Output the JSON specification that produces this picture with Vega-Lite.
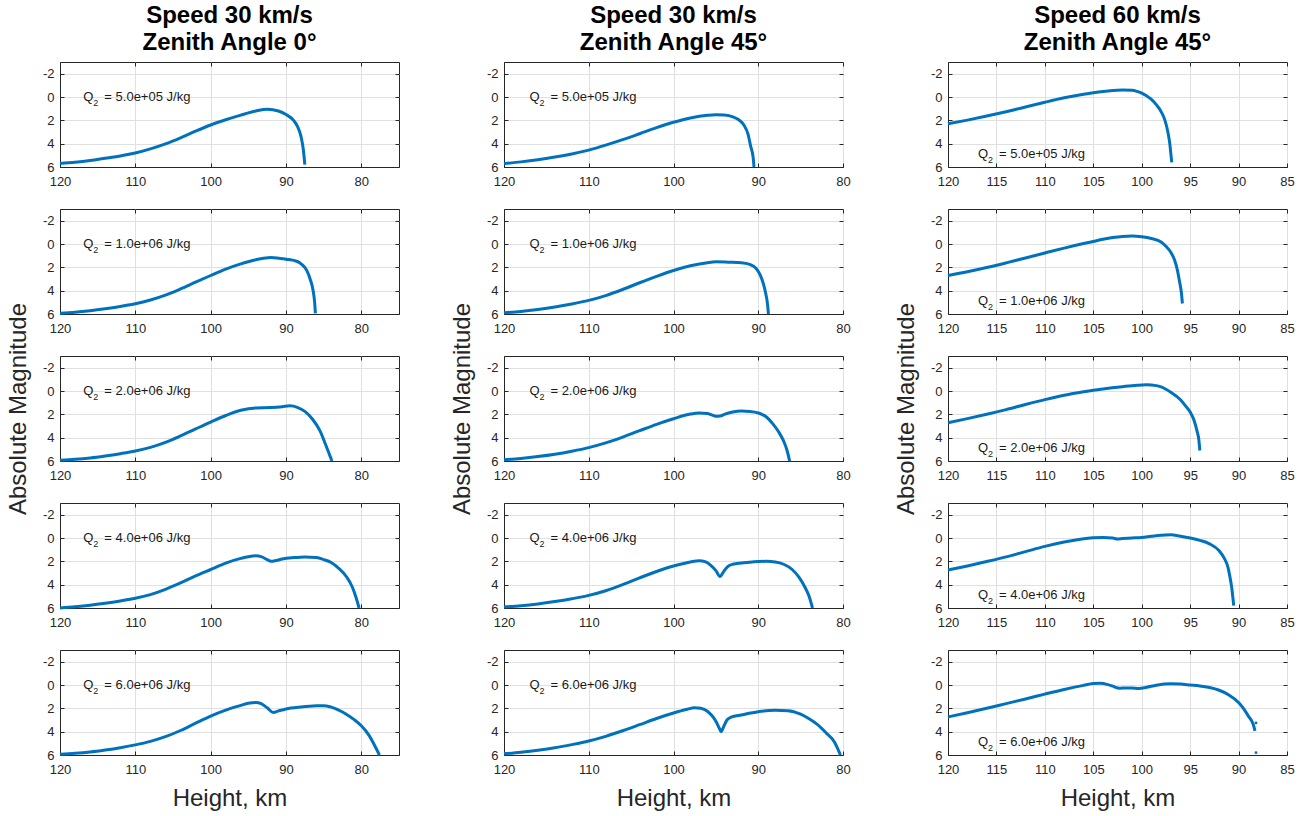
{
"$schema": "https://vega.github.io/schema/vega-lite/v6.json",
"padding": {"left": 5, "top": 3, "right": 5, "bottom": 5},
"background": "white",
"bounds": "flush",
"columns": 3,
"spacing": {"row": 42, "column": 105},
"datasets": {
"curves": [
{"c":"a1","h":120,"m":5.7},{"c":"a1","h":118,"m":5.6},{"c":"a1","h":116,"m":5.45},{"c":"a1","h":114,"m":5.25},{"c":"a1","h":112,"m":5.05},{"c":"a1","h":110,"m":4.8},{"c":"a1","h":108,"m":4.45},{"c":"a1","h":106,"m":4.02},{"c":"a1","h":104,"m":3.5},{"c":"a1","h":102,"m":2.93},{"c":"a1","h":100,"m":2.4},{"c":"a1","h":98,"m":1.95},{"c":"a1","h":96,"m":1.55},{"c":"a1","h":94,"m":1.2},{"c":"a1","h":92.5,"m":1.05},{"c":"a1","h":91,"m":1.2},{"c":"a1","h":90,"m":1.5},{"c":"a1","h":89,"m":2.0},{"c":"a1","h":88.5,"m":2.5},{"c":"a1","h":88,"m":3.4},{"c":"a1","h":87.7,"m":4.5},{"c":"a1","h":87.5,"m":5.8},
{"c":"a2","h":120,"m":5.93},{"c":"a2","h":118,"m":5.85},{"c":"a2","h":116,"m":5.72},{"c":"a2","h":114,"m":5.55},{"c":"a2","h":112,"m":5.35},{"c":"a2","h":110,"m":5.12},{"c":"a2","h":108,"m":4.8},{"c":"a2","h":106,"m":4.38},{"c":"a2","h":104,"m":3.85},{"c":"a2","h":102,"m":3.27},{"c":"a2","h":100,"m":2.7},{"c":"a2","h":98,"m":2.15},{"c":"a2","h":96,"m":1.7},{"c":"a2","h":94,"m":1.35},{"c":"a2","h":92,"m":1.15},{"c":"a2","h":90,"m":1.3},{"c":"a2","h":88.5,"m":1.5},{"c":"a2","h":88,"m":1.7},{"c":"a2","h":87.3,"m":2.2},{"c":"a2","h":86.8,"m":3.0},{"c":"a2","h":86.4,"m":4.0},{"c":"a2","h":86.2,"m":5.0},{"c":"a2","h":86.1,"m":5.95},
{"c":"a3","h":120,"m":5.94},{"c":"a3","h":118,"m":5.86},{"c":"a3","h":116,"m":5.74},{"c":"a3","h":114,"m":5.57},{"c":"a3","h":112,"m":5.37},{"c":"a3","h":110,"m":5.14},{"c":"a3","h":108,"m":4.83},{"c":"a3","h":106,"m":4.4},{"c":"a3","h":104,"m":3.85},{"c":"a3","h":102,"m":3.25},{"c":"a3","h":100,"m":2.66},{"c":"a3","h":98,"m":2.1},{"c":"a3","h":96,"m":1.65},{"c":"a3","h":94,"m":1.45},{"c":"a3","h":92,"m":1.42},{"c":"a3","h":90.5,"m":1.35},{"c":"a3","h":89.5,"m":1.27},{"c":"a3","h":88.5,"m":1.4},{"c":"a3","h":87.5,"m":1.75},{"c":"a3","h":86.5,"m":2.4},{"c":"a3","h":85.5,"m":3.4},{"c":"a3","h":84.8,"m":4.5},{"c":"a3","h":84.2,"m":5.5},{"c":"a3","h":83.9,"m":6.0},
{"c":"a4","h":120,"m":6.0},{"c":"a4","h":118,"m":5.9},{"c":"a4","h":116,"m":5.77},{"c":"a4","h":114,"m":5.6},{"c":"a4","h":112,"m":5.4},{"c":"a4","h":110,"m":5.17},{"c":"a4","h":108,"m":4.85},{"c":"a4","h":106,"m":4.4},{"c":"a4","h":104,"m":3.85},{"c":"a4","h":102,"m":3.25},{"c":"a4","h":100,"m":2.7},{"c":"a4","h":98,"m":2.15},{"c":"a4","h":96,"m":1.75},{"c":"a4","h":95,"m":1.6},{"c":"a4","h":94,"m":1.53},{"c":"a4","h":93.3,"m":1.6},{"c":"a4","h":92.5,"m":1.85},{"c":"a4","h":92,"m":2.0},{"c":"a4","h":91.3,"m":1.93},{"c":"a4","h":90.5,"m":1.8},{"c":"a4","h":89,"m":1.68},{"c":"a4","h":87.5,"m":1.62},{"c":"a4","h":86,"m":1.68},{"c":"a4","h":85,"m":1.85},{"c":"a4","h":84,"m":2.1},{"c":"a4","h":83,"m":2.6},{"c":"a4","h":82,"m":3.3},{"c":"a4","h":81.2,"m":4.2},{"c":"a4","h":80.7,"m":5.1},{"c":"a4","h":80.3,"m":6.0},
{"c":"a5","h":120,"m":5.94},{"c":"a5","h":118,"m":5.86},{"c":"a5","h":116,"m":5.74},{"c":"a5","h":114,"m":5.57},{"c":"a5","h":112,"m":5.37},{"c":"a5","h":110,"m":5.13},{"c":"a5","h":108,"m":4.83},{"c":"a5","h":106,"m":4.43},{"c":"a5","h":104,"m":3.9},{"c":"a5","h":102,"m":3.27},{"c":"a5","h":100,"m":2.66},{"c":"a5","h":98,"m":2.15},{"c":"a5","h":96,"m":1.75},{"c":"a5","h":95,"m":1.56},{"c":"a5","h":94,"m":1.5},{"c":"a5","h":93.3,"m":1.6},{"c":"a5","h":92.5,"m":1.95},{"c":"a5","h":91.7,"m":2.35},{"c":"a5","h":91,"m":2.22},{"c":"a5","h":90,"m":2.05},{"c":"a5","h":88,"m":1.88},{"c":"a5","h":86,"m":1.78},{"c":"a5","h":85,"m":1.77},{"c":"a5","h":84,"m":1.9},{"c":"a5","h":83,"m":2.15},{"c":"a5","h":82,"m":2.5},{"c":"a5","h":81,"m":2.95},{"c":"a5","h":80,"m":3.5},{"c":"a5","h":79,"m":4.3},{"c":"a5","h":78.3,"m":5.1},{"c":"a5","h":77.6,"m":6.0},
{"c":"b1","h":120,"m":5.7},{"c":"b1","h":118,"m":5.56},{"c":"b1","h":116,"m":5.38},{"c":"b1","h":114,"m":5.15},{"c":"b1","h":112,"m":4.88},{"c":"b1","h":110,"m":4.55},{"c":"b1","h":108,"m":4.13},{"c":"b1","h":106,"m":3.66},{"c":"b1","h":104,"m":3.15},{"c":"b1","h":102,"m":2.63},{"c":"b1","h":100,"m":2.17},{"c":"b1","h":98,"m":1.8},{"c":"b1","h":96,"m":1.57},{"c":"b1","h":95,"m":1.52},{"c":"b1","h":94,"m":1.55},{"c":"b1","h":93,"m":1.7},{"c":"b1","h":92.3,"m":1.95},{"c":"b1","h":91.7,"m":2.4},{"c":"b1","h":91.2,"m":3.2},{"c":"b1","h":90.9,"m":4.2},{"c":"b1","h":90.6,"m":5.2},{"c":"b1","h":90.5,"m":6.0},
{"c":"b2","h":120,"m":5.9},{"c":"b2","h":118,"m":5.78},{"c":"b2","h":116,"m":5.61},{"c":"b2","h":114,"m":5.4},{"c":"b2","h":112,"m":5.14},{"c":"b2","h":110,"m":4.83},{"c":"b2","h":108,"m":4.42},{"c":"b2","h":106,"m":3.9},{"c":"b2","h":104,"m":3.32},{"c":"b2","h":102,"m":2.77},{"c":"b2","h":100,"m":2.27},{"c":"b2","h":98,"m":1.87},{"c":"b2","h":96,"m":1.6},{"c":"b2","h":95,"m":1.53},{"c":"b2","h":93.5,"m":1.56},{"c":"b2","h":92,"m":1.6},{"c":"b2","h":91,"m":1.75},{"c":"b2","h":90.3,"m":2.05},{"c":"b2","h":89.8,"m":2.6},{"c":"b2","h":89.4,"m":3.4},{"c":"b2","h":89.1,"m":4.3},{"c":"b2","h":88.9,"m":5.2},{"c":"b2","h":88.8,"m":6.0},
{"c":"b3","h":120,"m":5.9},{"c":"b3","h":118,"m":5.78},{"c":"b3","h":116,"m":5.62},{"c":"b3","h":114,"m":5.42},{"c":"b3","h":112,"m":5.16},{"c":"b3","h":110,"m":4.85},{"c":"b3","h":108,"m":4.45},{"c":"b3","h":106,"m":3.95},{"c":"b3","h":104,"m":3.4},{"c":"b3","h":102,"m":2.86},{"c":"b3","h":100,"m":2.38},{"c":"b3","h":98,"m":1.98},{"c":"b3","h":97,"m":1.89},{"c":"b3","h":96,"m":1.93},{"c":"b3","h":95.5,"m":2.05},{"c":"b3","h":95,"m":2.17},{"c":"b3","h":94.5,"m":2.15},{"c":"b3","h":94,"m":2.0},{"c":"b3","h":93,"m":1.8},{"c":"b3","h":92,"m":1.72},{"c":"b3","h":91,"m":1.75},{"c":"b3","h":90,"m":1.88},{"c":"b3","h":89,"m":2.25},{"c":"b3","h":88.3,"m":2.8},{"c":"b3","h":87.6,"m":3.5},{"c":"b3","h":87,"m":4.3},{"c":"b3","h":86.6,"m":5.1},{"c":"b3","h":86.3,"m":6.0},
{"c":"b4","h":120,"m":5.9},{"c":"b4","h":118,"m":5.8},{"c":"b4","h":116,"m":5.65},{"c":"b4","h":114,"m":5.45},{"c":"b4","h":112,"m":5.21},{"c":"b4","h":110,"m":4.92},{"c":"b4","h":108,"m":4.52},{"c":"b4","h":106,"m":4.0},{"c":"b4","h":104,"m":3.42},{"c":"b4","h":102,"m":2.87},{"c":"b4","h":100,"m":2.4},{"c":"b4","h":98,"m":2.05},{"c":"b4","h":97,"m":1.94},{"c":"b4","h":96.2,"m":2.05},{"c":"b4","h":95.6,"m":2.35},{"c":"b4","h":95,"m":2.8},{"c":"b4","h":94.5,"m":3.3},{"c":"b4","h":94.1,"m":2.9},{"c":"b4","h":93.6,"m":2.45},{"c":"b4","h":93,"m":2.25},{"c":"b4","h":92,"m":2.15},{"c":"b4","h":90.5,"m":2.03},{"c":"b4","h":89,"m":2.0},{"c":"b4","h":88,"m":2.05},{"c":"b4","h":87,"m":2.25},{"c":"b4","h":86,"m":2.7},{"c":"b4","h":85.2,"m":3.35},{"c":"b4","h":84.5,"m":4.2},{"c":"b4","h":84,"m":5.0},{"c":"b4","h":83.6,"m":6.0},
{"c":"b5","h":120,"m":5.9},{"c":"b5","h":118,"m":5.76},{"c":"b5","h":116,"m":5.59},{"c":"b5","h":114,"m":5.38},{"c":"b5","h":112,"m":5.11},{"c":"b5","h":110,"m":4.8},{"c":"b5","h":108,"m":4.4},{"c":"b5","h":106,"m":3.92},{"c":"b5","h":104,"m":3.4},{"c":"b5","h":102,"m":2.87},{"c":"b5","h":100,"m":2.4},{"c":"b5","h":98.5,"m":2.1},{"c":"b5","h":97.5,"m":1.95},{"c":"b5","h":96.8,"m":2.0},{"c":"b5","h":96,"m":2.25},{"c":"b5","h":95.5,"m":2.6},{"c":"b5","h":95,"m":3.1},{"c":"b5","h":94.6,"m":3.7},{"c":"b5","h":94.4,"m":4.0},{"c":"b5","h":94.1,"m":3.6},{"c":"b5","h":93.7,"m":3.0},{"c":"b5","h":93.2,"m":2.75},{"c":"b5","h":92,"m":2.57},{"c":"b5","h":90,"m":2.3},{"c":"b5","h":88,"m":2.17},{"c":"b5","h":86.5,"m":2.2},{"c":"b5","h":85,"m":2.5},{"c":"b5","h":84,"m":2.9},{"c":"b5","h":83,"m":3.4},{"c":"b5","h":82,"m":4.1},{"c":"b5","h":81,"m":4.9},{"c":"b5","h":80.3,"m":6.0},
{"c":"c1","h":120,"m":2.3},{"c":"c1","h":118,"m":1.98},{"c":"c1","h":116,"m":1.63},{"c":"c1","h":114,"m":1.26},{"c":"c1","h":112,"m":0.86},{"c":"c1","h":110,"m":0.45},{"c":"c1","h":108,"m":0.07},{"c":"c1","h":106,"m":-0.24},{"c":"c1","h":105,"m":-0.37},{"c":"c1","h":104,"m":-0.48},{"c":"c1","h":103,"m":-0.56},{"c":"c1","h":102,"m":-0.6},{"c":"c1","h":101,"m":-0.57},{"c":"c1","h":100.5,"m":-0.48},{"c":"c1","h":100,"m":-0.33},{"c":"c1","h":99.5,"m":-0.1},{"c":"c1","h":99,"m":0.2},{"c":"c1","h":98.5,"m":0.65},{"c":"c1","h":98,"m":1.25},{"c":"c1","h":97.6,"m":2.0},{"c":"c1","h":97.3,"m":3.0},{"c":"c1","h":97.1,"m":4.0},{"c":"c1","h":97.0,"m":4.8},{"c":"c1","h":96.9,"m":5.6},
{"c":"c2","h":120,"m":2.7},{"c":"c2","h":118,"m":2.38},{"c":"c2","h":116,"m":2.02},{"c":"c2","h":114,"m":1.62},{"c":"c2","h":112,"m":1.2},{"c":"c2","h":110,"m":0.77},{"c":"c2","h":108,"m":0.35},{"c":"c2","h":106,"m":-0.04},{"c":"c2","h":105,"m":-0.22},{"c":"c2","h":104,"m":-0.4},{"c":"c2","h":103,"m":-0.55},{"c":"c2","h":102,"m":-0.65},{"c":"c2","h":101,"m":-0.68},{"c":"c2","h":100,"m":-0.62},{"c":"c2","h":99,"m":-0.47},{"c":"c2","h":98,"m":-0.17},{"c":"c2","h":97.5,"m":0.2},{"c":"c2","h":97,"m":0.7},{"c":"c2","h":96.6,"m":1.4},{"c":"c2","h":96.3,"m":2.3},{"c":"c2","h":96.1,"m":3.2},{"c":"c2","h":95.9,"m":4.2},{"c":"c2","h":95.8,"m":5.1},
{"c":"c3","h":120,"m":2.72},{"c":"c3","h":118,"m":2.37},{"c":"c3","h":116,"m":2.0},{"c":"c3","h":114,"m":1.6},{"c":"c3","h":112,"m":1.16},{"c":"c3","h":110,"m":0.74},{"c":"c3","h":108,"m":0.36},{"c":"c3","h":106,"m":0.06},{"c":"c3","h":105,"m":-0.07},{"c":"c3","h":104,"m":-0.18},{"c":"c3","h":102,"m":-0.37},{"c":"c3","h":100.5,"m":-0.49},{"c":"c3","h":99.5,"m":-0.53},{"c":"c3","h":98.5,"m":-0.46},{"c":"c3","h":98,"m":-0.35},{"c":"c3","h":97.5,"m":-0.15},{"c":"c3","h":97,"m":0.1},{"c":"c3","h":96,"m":0.75},{"c":"c3","h":95.5,"m":1.25},{"c":"c3","h":95,"m":1.8},{"c":"c3","h":94.6,"m":2.5},{"c":"c3","h":94.3,"m":3.4},{"c":"c3","h":94.1,"m":4.2},{"c":"c3","h":94.0,"m":5.1},
{"c":"c4","h":120,"m":2.75},{"c":"c4","h":118,"m":2.4},{"c":"c4","h":116,"m":2.02},{"c":"c4","h":114,"m":1.62},{"c":"c4","h":112,"m":1.17},{"c":"c4","h":110,"m":0.72},{"c":"c4","h":108,"m":0.35},{"c":"c4","h":106,"m":0.07},{"c":"c4","h":105,"m":-0.03},{"c":"c4","h":104,"m":-0.05},{"c":"c4","h":103,"m":0.0},{"c":"c4","h":102.5,"m":0.08},{"c":"c4","h":102,"m":0.05},{"c":"c4","h":101,"m":0.0},{"c":"c4","h":100,"m":-0.05},{"c":"c4","h":99,"m":-0.15},{"c":"c4","h":98,"m":-0.24},{"c":"c4","h":97,"m":-0.27},{"c":"c4","h":96,"m":-0.15},{"c":"c4","h":95,"m":0.0},{"c":"c4","h":94,"m":0.2},{"c":"c4","h":93,"m":0.5},{"c":"c4","h":92,"m":1.1},{"c":"c4","h":91.5,"m":1.7},{"c":"c4","h":91.1,"m":2.5},{"c":"c4","h":90.9,"m":3.3},{"c":"c4","h":90.7,"m":4.3},{"c":"c4","h":90.6,"m":5.0},{"c":"c4","h":90.5,"m":5.8},
{"c":"c5","h":120,"m":2.74},{"c":"c5","h":118,"m":2.38},{"c":"c5","h":116,"m":2.0},{"c":"c5","h":114,"m":1.6},{"c":"c5","h":112,"m":1.2},{"c":"c5","h":110,"m":0.78},{"c":"c5","h":108,"m":0.38},{"c":"c5","h":106,"m":0.03},{"c":"c5","h":105,"m":-0.12},{"c":"c5","h":104.3,"m":-0.14},{"c":"c5","h":103.5,"m":-0.03},{"c":"c5","h":103,"m":0.1},{"c":"c5","h":102.3,"m":0.28},{"c":"c5","h":101.7,"m":0.25},{"c":"c5","h":101,"m":0.26},{"c":"c5","h":100.3,"m":0.3},{"c":"c5","h":99.5,"m":0.2},{"c":"c5","h":98.5,"m":0.02},{"c":"c5","h":97,"m":-0.1},{"c":"c5","h":96,"m":-0.08},{"c":"c5","h":95,"m":0.0},{"c":"c5","h":94,"m":0.08},{"c":"c5","h":93,"m":0.22},{"c":"c5","h":92,"m":0.45},{"c":"c5","h":91,"m":0.85},{"c":"c5","h":90,"m":1.5},{"c":"c5","h":89.5,"m":2.0},{"c":"c5","h":89,"m":2.65},{"c":"c5","h":88.5,"m":3.35},{"c":"c5","h":88.3,"m":3.94}
],
"dots": [{"c":"c5","h":88.2,"m":3.25},{"c":"c5","h":88.2,"m":5.8}]
},
"concat": [
{"width":339,"height":105,"title":{"text":["Speed 30 km/s","Zenith Angle 0°"]},"layer":[
{"data":{"name":"curves"},"transform":[{"filter":"datum.c=='a1'"}],"mark":{"type":"line","color":"#0072BD","strokeWidth":3,"interpolate":"monotone"},"encoding":{"x":{"field":"h","type":"quantitative","scale":{"domain":[75,120],"reverse":true,"nice":false,"zero":false},"axis":{"values":[120,110,100,90,80],"title":null,"labelExpr":"''+datum.value"}},"y":{"field":"m","type":"quantitative","scale":{"domain":[-3,6],"reverse":true,"nice":false,"zero":false},"axis":{"values":[-2,0,2,4,6],"title":null,"labelExpr":"''+datum.value"}}}},
{"data":{"values":[{"t":"Q"}]},"mark":{"type":"text","align":"left","baseline":"middle"},"encoding":{"x":{"datum":116.9,"type":"quantitative","axis":{"orient":"top","values":[120,110,100,90,80],"labels":false,"grid":false,"domain":false,"title":null}},"y":{"datum":0,"type":"quantitative","axis":{"orient":"right","values":[-2,0,2,4,6],"labels":false,"grid":false,"domain":false,"title":null}},"text":{"field":"t"}}},
{"data":{"values":[{"t":"2"}]},"mark":{"type":"text","align":"left","baseline":"middle","fontSize":9,"dx":10,"dy":6},"encoding":{"x":{"datum":116.9,"type":"quantitative","axis":null},"y":{"datum":0,"type":"quantitative","axis":null},"text":{"field":"t"}}},
{"data":{"values":[{"t":"= 5.0e+05 J/kg"}]},"mark":{"type":"text","align":"left","baseline":"middle","dx":21},"encoding":{"x":{"datum":116.9,"type":"quantitative","axis":null},"y":{"datum":0,"type":"quantitative","axis":null},"text":{"field":"t"}}}
],"resolve":{"axis":{"x":"independent","y":"independent"}}},

{"width":339,"height":105,"title":{"text":["Speed 30 km/s","Zenith Angle 45°"]},"layer":[
{"data":{"name":"curves"},"transform":[{"filter":"datum.c=='b1'"}],"mark":{"type":"line","color":"#0072BD","strokeWidth":3,"interpolate":"monotone"},"encoding":{"x":{"field":"h","type":"quantitative","scale":{"domain":[80,120],"reverse":true,"nice":false,"zero":false},"axis":{"values":[120,110,100,90,80],"title":null,"labelExpr":"''+datum.value"}},"y":{"field":"m","type":"quantitative","scale":{"domain":[-3,6],"reverse":true,"nice":false,"zero":false},"axis":{"values":[-2,0,2,4,6],"title":null,"labelExpr":"''+datum.value"}}}},
{"data":{"values":[{"t":"Q"}]},"mark":{"type":"text","align":"left","baseline":"middle"},"encoding":{"x":{"datum":117,"type":"quantitative","axis":{"orient":"top","values":[120,110,100,90,80],"labels":false,"grid":false,"domain":false,"title":null}},"y":{"datum":0,"type":"quantitative","axis":{"orient":"right","values":[-2,0,2,4,6],"labels":false,"grid":false,"domain":false,"title":null}},"text":{"field":"t"}}},
{"data":{"values":[{"t":"2"}]},"mark":{"type":"text","align":"left","baseline":"middle","fontSize":9,"dx":10,"dy":6},"encoding":{"x":{"datum":117,"type":"quantitative","axis":null},"y":{"datum":0,"type":"quantitative","axis":null},"text":{"field":"t"}}},
{"data":{"values":[{"t":"= 5.0e+05 J/kg"}]},"mark":{"type":"text","align":"left","baseline":"middle","dx":21},"encoding":{"x":{"datum":117,"type":"quantitative","axis":null},"y":{"datum":0,"type":"quantitative","axis":null},"text":{"field":"t"}}}
],"resolve":{"axis":{"x":"independent","y":"independent"}}},

{"width":339,"height":105,"title":{"text":["Speed 60 km/s","Zenith Angle 45°"]},"layer":[
{"data":{"name":"curves"},"transform":[{"filter":"datum.c=='c1'"}],"mark":{"type":"line","color":"#0072BD","strokeWidth":3,"interpolate":"monotone"},"encoding":{"x":{"field":"h","type":"quantitative","scale":{"domain":[85,120],"reverse":true,"nice":false,"zero":false},"axis":{"values":[120,115,110,105,100,95,90,85],"title":null,"labelExpr":"''+datum.value"}},"y":{"field":"m","type":"quantitative","scale":{"domain":[-3,6],"reverse":true,"nice":false,"zero":false},"axis":{"values":[-2,0,2,4,6],"title":null,"labelExpr":"''+datum.value"}}}},
{"data":{"values":[{"t":"Q"}]},"mark":{"type":"text","align":"left","baseline":"middle"},"encoding":{"x":{"datum":116.9,"type":"quantitative","axis":{"orient":"top","values":[120,115,110,105,100,95,90,85],"labels":false,"grid":false,"domain":false,"title":null}},"y":{"datum":4.86,"type":"quantitative","axis":{"orient":"right","values":[-2,0,2,4,6],"labels":false,"grid":false,"domain":false,"title":null}},"text":{"field":"t"}}},
{"data":{"values":[{"t":"2"}]},"mark":{"type":"text","align":"left","baseline":"middle","fontSize":9,"dx":10,"dy":6},"encoding":{"x":{"datum":116.9,"type":"quantitative","axis":null},"y":{"datum":4.86,"type":"quantitative","axis":null},"text":{"field":"t"}}},
{"data":{"values":[{"t":"= 5.0e+05 J/kg"}]},"mark":{"type":"text","align":"left","baseline":"middle","dx":21},"encoding":{"x":{"datum":116.9,"type":"quantitative","axis":null},"y":{"datum":4.86,"type":"quantitative","axis":null},"text":{"field":"t"}}}
],"resolve":{"axis":{"x":"independent","y":"independent"}}},

{"width":339,"height":105,"layer":[
{"data":{"name":"curves"},"transform":[{"filter":"datum.c=='a2'"}],"mark":{"type":"line","color":"#0072BD","strokeWidth":3,"interpolate":"monotone"},"encoding":{"x":{"field":"h","type":"quantitative","scale":{"domain":[75,120],"reverse":true,"nice":false,"zero":false},"axis":{"values":[120,110,100,90,80],"title":null,"labelExpr":"''+datum.value"}},"y":{"field":"m","type":"quantitative","scale":{"domain":[-3,6],"reverse":true,"nice":false,"zero":false},"axis":{"values":[-2,0,2,4,6],"title":null,"labelExpr":"''+datum.value"}}}},
{"data":{"values":[{"t":"Q"}]},"mark":{"type":"text","align":"left","baseline":"middle"},"encoding":{"x":{"datum":116.9,"type":"quantitative","axis":{"orient":"top","values":[120,110,100,90,80],"labels":false,"grid":false,"domain":false,"title":null}},"y":{"datum":0,"type":"quantitative","axis":{"orient":"right","values":[-2,0,2,4,6],"labels":false,"grid":false,"domain":false,"title":null}},"text":{"field":"t"}}},
{"data":{"values":[{"t":"2"}]},"mark":{"type":"text","align":"left","baseline":"middle","fontSize":9,"dx":10,"dy":6},"encoding":{"x":{"datum":116.9,"type":"quantitative","axis":null},"y":{"datum":0,"type":"quantitative","axis":null},"text":{"field":"t"}}},
{"data":{"values":[{"t":"= 1.0e+06 J/kg"}]},"mark":{"type":"text","align":"left","baseline":"middle","dx":21},"encoding":{"x":{"datum":116.9,"type":"quantitative","axis":null},"y":{"datum":0,"type":"quantitative","axis":null},"text":{"field":"t"}}}
],"resolve":{"axis":{"x":"independent","y":"independent"}}},

{"width":339,"height":105,"layer":[
{"data":{"name":"curves"},"transform":[{"filter":"datum.c=='b2'"}],"mark":{"type":"line","color":"#0072BD","strokeWidth":3,"interpolate":"monotone"},"encoding":{"x":{"field":"h","type":"quantitative","scale":{"domain":[80,120],"reverse":true,"nice":false,"zero":false},"axis":{"values":[120,110,100,90,80],"title":null,"labelExpr":"''+datum.value"}},"y":{"field":"m","type":"quantitative","scale":{"domain":[-3,6],"reverse":true,"nice":false,"zero":false},"axis":{"values":[-2,0,2,4,6],"title":null,"labelExpr":"''+datum.value"}}}},
{"data":{"values":[{"t":"Q"}]},"mark":{"type":"text","align":"left","baseline":"middle"},"encoding":{"x":{"datum":117,"type":"quantitative","axis":{"orient":"top","values":[120,110,100,90,80],"labels":false,"grid":false,"domain":false,"title":null}},"y":{"datum":0,"type":"quantitative","axis":{"orient":"right","values":[-2,0,2,4,6],"labels":false,"grid":false,"domain":false,"title":null}},"text":{"field":"t"}}},
{"data":{"values":[{"t":"2"}]},"mark":{"type":"text","align":"left","baseline":"middle","fontSize":9,"dx":10,"dy":6},"encoding":{"x":{"datum":117,"type":"quantitative","axis":null},"y":{"datum":0,"type":"quantitative","axis":null},"text":{"field":"t"}}},
{"data":{"values":[{"t":"= 1.0e+06 J/kg"}]},"mark":{"type":"text","align":"left","baseline":"middle","dx":21},"encoding":{"x":{"datum":117,"type":"quantitative","axis":null},"y":{"datum":0,"type":"quantitative","axis":null},"text":{"field":"t"}}}
],"resolve":{"axis":{"x":"independent","y":"independent"}}},

{"width":339,"height":105,"layer":[
{"data":{"name":"curves"},"transform":[{"filter":"datum.c=='c2'"}],"mark":{"type":"line","color":"#0072BD","strokeWidth":3,"interpolate":"monotone"},"encoding":{"x":{"field":"h","type":"quantitative","scale":{"domain":[85,120],"reverse":true,"nice":false,"zero":false},"axis":{"values":[120,115,110,105,100,95,90,85],"title":null,"labelExpr":"''+datum.value"}},"y":{"field":"m","type":"quantitative","scale":{"domain":[-3,6],"reverse":true,"nice":false,"zero":false},"axis":{"values":[-2,0,2,4,6],"title":null,"labelExpr":"''+datum.value"}}}},
{"data":{"values":[{"t":"Q"}]},"mark":{"type":"text","align":"left","baseline":"middle"},"encoding":{"x":{"datum":116.9,"type":"quantitative","axis":{"orient":"top","values":[120,115,110,105,100,95,90,85],"labels":false,"grid":false,"domain":false,"title":null}},"y":{"datum":4.86,"type":"quantitative","axis":{"orient":"right","values":[-2,0,2,4,6],"labels":false,"grid":false,"domain":false,"title":null}},"text":{"field":"t"}}},
{"data":{"values":[{"t":"2"}]},"mark":{"type":"text","align":"left","baseline":"middle","fontSize":9,"dx":10,"dy":6},"encoding":{"x":{"datum":116.9,"type":"quantitative","axis":null},"y":{"datum":4.86,"type":"quantitative","axis":null},"text":{"field":"t"}}},
{"data":{"values":[{"t":"= 1.0e+06 J/kg"}]},"mark":{"type":"text","align":"left","baseline":"middle","dx":21},"encoding":{"x":{"datum":116.9,"type":"quantitative","axis":null},"y":{"datum":4.86,"type":"quantitative","axis":null},"text":{"field":"t"}}}
],"resolve":{"axis":{"x":"independent","y":"independent"}}},

{"width":339,"height":105,"layer":[
{"data":{"name":"curves"},"transform":[{"filter":"datum.c=='a3'"}],"mark":{"type":"line","color":"#0072BD","strokeWidth":3,"interpolate":"monotone"},"encoding":{"x":{"field":"h","type":"quantitative","scale":{"domain":[75,120],"reverse":true,"nice":false,"zero":false},"axis":{"values":[120,110,100,90,80],"title":null,"labelExpr":"''+datum.value"}},"y":{"field":"m","type":"quantitative","scale":{"domain":[-3,6],"reverse":true,"nice":false,"zero":false},"axis":{"values":[-2,0,2,4,6],"title":"Absolute Magnitude","labelExpr":"''+datum.value"}}}},
{"data":{"values":[{"t":"Q"}]},"mark":{"type":"text","align":"left","baseline":"middle"},"encoding":{"x":{"datum":116.9,"type":"quantitative","axis":{"orient":"top","values":[120,110,100,90,80],"labels":false,"grid":false,"domain":false,"title":null}},"y":{"datum":0,"type":"quantitative","axis":{"orient":"right","values":[-2,0,2,4,6],"labels":false,"grid":false,"domain":false,"title":null}},"text":{"field":"t"}}},
{"data":{"values":[{"t":"2"}]},"mark":{"type":"text","align":"left","baseline":"middle","fontSize":9,"dx":10,"dy":6},"encoding":{"x":{"datum":116.9,"type":"quantitative","axis":null},"y":{"datum":0,"type":"quantitative","axis":null},"text":{"field":"t"}}},
{"data":{"values":[{"t":"= 2.0e+06 J/kg"}]},"mark":{"type":"text","align":"left","baseline":"middle","dx":21},"encoding":{"x":{"datum":116.9,"type":"quantitative","axis":null},"y":{"datum":0,"type":"quantitative","axis":null},"text":{"field":"t"}}}
],"resolve":{"axis":{"x":"independent","y":"independent"}}},

{"width":339,"height":105,"layer":[
{"data":{"name":"curves"},"transform":[{"filter":"datum.c=='b3'"}],"mark":{"type":"line","color":"#0072BD","strokeWidth":3,"interpolate":"monotone"},"encoding":{"x":{"field":"h","type":"quantitative","scale":{"domain":[80,120],"reverse":true,"nice":false,"zero":false},"axis":{"values":[120,110,100,90,80],"title":null,"labelExpr":"''+datum.value"}},"y":{"field":"m","type":"quantitative","scale":{"domain":[-3,6],"reverse":true,"nice":false,"zero":false},"axis":{"values":[-2,0,2,4,6],"title":"Absolute Magnitude","labelExpr":"''+datum.value"}}}},
{"data":{"values":[{"t":"Q"}]},"mark":{"type":"text","align":"left","baseline":"middle"},"encoding":{"x":{"datum":117,"type":"quantitative","axis":{"orient":"top","values":[120,110,100,90,80],"labels":false,"grid":false,"domain":false,"title":null}},"y":{"datum":0,"type":"quantitative","axis":{"orient":"right","values":[-2,0,2,4,6],"labels":false,"grid":false,"domain":false,"title":null}},"text":{"field":"t"}}},
{"data":{"values":[{"t":"2"}]},"mark":{"type":"text","align":"left","baseline":"middle","fontSize":9,"dx":10,"dy":6},"encoding":{"x":{"datum":117,"type":"quantitative","axis":null},"y":{"datum":0,"type":"quantitative","axis":null},"text":{"field":"t"}}},
{"data":{"values":[{"t":"= 2.0e+06 J/kg"}]},"mark":{"type":"text","align":"left","baseline":"middle","dx":21},"encoding":{"x":{"datum":117,"type":"quantitative","axis":null},"y":{"datum":0,"type":"quantitative","axis":null},"text":{"field":"t"}}}
],"resolve":{"axis":{"x":"independent","y":"independent"}}},

{"width":339,"height":105,"layer":[
{"data":{"name":"curves"},"transform":[{"filter":"datum.c=='c3'"}],"mark":{"type":"line","color":"#0072BD","strokeWidth":3,"interpolate":"monotone"},"encoding":{"x":{"field":"h","type":"quantitative","scale":{"domain":[85,120],"reverse":true,"nice":false,"zero":false},"axis":{"values":[120,115,110,105,100,95,90,85],"title":null,"labelExpr":"''+datum.value"}},"y":{"field":"m","type":"quantitative","scale":{"domain":[-3,6],"reverse":true,"nice":false,"zero":false},"axis":{"values":[-2,0,2,4,6],"title":"Absolute Magnitude","labelExpr":"''+datum.value"}}}},
{"data":{"values":[{"t":"Q"}]},"mark":{"type":"text","align":"left","baseline":"middle"},"encoding":{"x":{"datum":116.9,"type":"quantitative","axis":{"orient":"top","values":[120,115,110,105,100,95,90,85],"labels":false,"grid":false,"domain":false,"title":null}},"y":{"datum":4.86,"type":"quantitative","axis":{"orient":"right","values":[-2,0,2,4,6],"labels":false,"grid":false,"domain":false,"title":null}},"text":{"field":"t"}}},
{"data":{"values":[{"t":"2"}]},"mark":{"type":"text","align":"left","baseline":"middle","fontSize":9,"dx":10,"dy":6},"encoding":{"x":{"datum":116.9,"type":"quantitative","axis":null},"y":{"datum":4.86,"type":"quantitative","axis":null},"text":{"field":"t"}}},
{"data":{"values":[{"t":"= 2.0e+06 J/kg"}]},"mark":{"type":"text","align":"left","baseline":"middle","dx":21},"encoding":{"x":{"datum":116.9,"type":"quantitative","axis":null},"y":{"datum":4.86,"type":"quantitative","axis":null},"text":{"field":"t"}}}
],"resolve":{"axis":{"x":"independent","y":"independent"}}},

{"width":339,"height":105,"layer":[
{"data":{"name":"curves"},"transform":[{"filter":"datum.c=='a4'"}],"mark":{"type":"line","color":"#0072BD","strokeWidth":3,"interpolate":"monotone"},"encoding":{"x":{"field":"h","type":"quantitative","scale":{"domain":[75,120],"reverse":true,"nice":false,"zero":false},"axis":{"values":[120,110,100,90,80],"title":null,"labelExpr":"''+datum.value"}},"y":{"field":"m","type":"quantitative","scale":{"domain":[-3,6],"reverse":true,"nice":false,"zero":false},"axis":{"values":[-2,0,2,4,6],"title":null,"labelExpr":"''+datum.value"}}}},
{"data":{"values":[{"t":"Q"}]},"mark":{"type":"text","align":"left","baseline":"middle"},"encoding":{"x":{"datum":116.9,"type":"quantitative","axis":{"orient":"top","values":[120,110,100,90,80],"labels":false,"grid":false,"domain":false,"title":null}},"y":{"datum":0,"type":"quantitative","axis":{"orient":"right","values":[-2,0,2,4,6],"labels":false,"grid":false,"domain":false,"title":null}},"text":{"field":"t"}}},
{"data":{"values":[{"t":"2"}]},"mark":{"type":"text","align":"left","baseline":"middle","fontSize":9,"dx":10,"dy":6},"encoding":{"x":{"datum":116.9,"type":"quantitative","axis":null},"y":{"datum":0,"type":"quantitative","axis":null},"text":{"field":"t"}}},
{"data":{"values":[{"t":"= 4.0e+06 J/kg"}]},"mark":{"type":"text","align":"left","baseline":"middle","dx":21},"encoding":{"x":{"datum":116.9,"type":"quantitative","axis":null},"y":{"datum":0,"type":"quantitative","axis":null},"text":{"field":"t"}}}
],"resolve":{"axis":{"x":"independent","y":"independent"}}},

{"width":339,"height":105,"layer":[
{"data":{"name":"curves"},"transform":[{"filter":"datum.c=='b4'"}],"mark":{"type":"line","color":"#0072BD","strokeWidth":3,"interpolate":"monotone"},"encoding":{"x":{"field":"h","type":"quantitative","scale":{"domain":[80,120],"reverse":true,"nice":false,"zero":false},"axis":{"values":[120,110,100,90,80],"title":null,"labelExpr":"''+datum.value"}},"y":{"field":"m","type":"quantitative","scale":{"domain":[-3,6],"reverse":true,"nice":false,"zero":false},"axis":{"values":[-2,0,2,4,6],"title":null,"labelExpr":"''+datum.value"}}}},
{"data":{"values":[{"t":"Q"}]},"mark":{"type":"text","align":"left","baseline":"middle"},"encoding":{"x":{"datum":117,"type":"quantitative","axis":{"orient":"top","values":[120,110,100,90,80],"labels":false,"grid":false,"domain":false,"title":null}},"y":{"datum":0,"type":"quantitative","axis":{"orient":"right","values":[-2,0,2,4,6],"labels":false,"grid":false,"domain":false,"title":null}},"text":{"field":"t"}}},
{"data":{"values":[{"t":"2"}]},"mark":{"type":"text","align":"left","baseline":"middle","fontSize":9,"dx":10,"dy":6},"encoding":{"x":{"datum":117,"type":"quantitative","axis":null},"y":{"datum":0,"type":"quantitative","axis":null},"text":{"field":"t"}}},
{"data":{"values":[{"t":"= 4.0e+06 J/kg"}]},"mark":{"type":"text","align":"left","baseline":"middle","dx":21},"encoding":{"x":{"datum":117,"type":"quantitative","axis":null},"y":{"datum":0,"type":"quantitative","axis":null},"text":{"field":"t"}}}
],"resolve":{"axis":{"x":"independent","y":"independent"}}},

{"width":339,"height":105,"layer":[
{"data":{"name":"curves"},"transform":[{"filter":"datum.c=='c4'"}],"mark":{"type":"line","color":"#0072BD","strokeWidth":3,"interpolate":"monotone"},"encoding":{"x":{"field":"h","type":"quantitative","scale":{"domain":[85,120],"reverse":true,"nice":false,"zero":false},"axis":{"values":[120,115,110,105,100,95,90,85],"title":null,"labelExpr":"''+datum.value"}},"y":{"field":"m","type":"quantitative","scale":{"domain":[-3,6],"reverse":true,"nice":false,"zero":false},"axis":{"values":[-2,0,2,4,6],"title":null,"labelExpr":"''+datum.value"}}}},
{"data":{"values":[{"t":"Q"}]},"mark":{"type":"text","align":"left","baseline":"middle"},"encoding":{"x":{"datum":116.9,"type":"quantitative","axis":{"orient":"top","values":[120,115,110,105,100,95,90,85],"labels":false,"grid":false,"domain":false,"title":null}},"y":{"datum":4.86,"type":"quantitative","axis":{"orient":"right","values":[-2,0,2,4,6],"labels":false,"grid":false,"domain":false,"title":null}},"text":{"field":"t"}}},
{"data":{"values":[{"t":"2"}]},"mark":{"type":"text","align":"left","baseline":"middle","fontSize":9,"dx":10,"dy":6},"encoding":{"x":{"datum":116.9,"type":"quantitative","axis":null},"y":{"datum":4.86,"type":"quantitative","axis":null},"text":{"field":"t"}}},
{"data":{"values":[{"t":"= 4.0e+06 J/kg"}]},"mark":{"type":"text","align":"left","baseline":"middle","dx":21},"encoding":{"x":{"datum":116.9,"type":"quantitative","axis":null},"y":{"datum":4.86,"type":"quantitative","axis":null},"text":{"field":"t"}}}
],"resolve":{"axis":{"x":"independent","y":"independent"}}},

{"width":339,"height":105,"layer":[
{"data":{"name":"curves"},"transform":[{"filter":"datum.c=='a5'"}],"mark":{"type":"line","color":"#0072BD","strokeWidth":3,"interpolate":"monotone"},"encoding":{"x":{"field":"h","type":"quantitative","scale":{"domain":[75,120],"reverse":true,"nice":false,"zero":false},"axis":{"values":[120,110,100,90,80],"title":"Height, km","labelExpr":"''+datum.value"}},"y":{"field":"m","type":"quantitative","scale":{"domain":[-3,6],"reverse":true,"nice":false,"zero":false},"axis":{"values":[-2,0,2,4,6],"title":null,"labelExpr":"''+datum.value"}}}},
{"data":{"values":[{"t":"Q"}]},"mark":{"type":"text","align":"left","baseline":"middle"},"encoding":{"x":{"datum":116.9,"type":"quantitative","axis":{"orient":"top","values":[120,110,100,90,80],"labels":false,"grid":false,"domain":false,"title":null}},"y":{"datum":0,"type":"quantitative","axis":{"orient":"right","values":[-2,0,2,4,6],"labels":false,"grid":false,"domain":false,"title":null}},"text":{"field":"t"}}},
{"data":{"values":[{"t":"2"}]},"mark":{"type":"text","align":"left","baseline":"middle","fontSize":9,"dx":10,"dy":6},"encoding":{"x":{"datum":116.9,"type":"quantitative","axis":null},"y":{"datum":0,"type":"quantitative","axis":null},"text":{"field":"t"}}},
{"data":{"values":[{"t":"= 6.0e+06 J/kg"}]},"mark":{"type":"text","align":"left","baseline":"middle","dx":21},"encoding":{"x":{"datum":116.9,"type":"quantitative","axis":null},"y":{"datum":0,"type":"quantitative","axis":null},"text":{"field":"t"}}}
],"resolve":{"axis":{"x":"independent","y":"independent"}}},

{"width":339,"height":105,"layer":[
{"data":{"name":"curves"},"transform":[{"filter":"datum.c=='b5'"}],"mark":{"type":"line","color":"#0072BD","strokeWidth":3,"interpolate":"monotone"},"encoding":{"x":{"field":"h","type":"quantitative","scale":{"domain":[80,120],"reverse":true,"nice":false,"zero":false},"axis":{"values":[120,110,100,90,80],"title":"Height, km","labelExpr":"''+datum.value"}},"y":{"field":"m","type":"quantitative","scale":{"domain":[-3,6],"reverse":true,"nice":false,"zero":false},"axis":{"values":[-2,0,2,4,6],"title":null,"labelExpr":"''+datum.value"}}}},
{"data":{"values":[{"t":"Q"}]},"mark":{"type":"text","align":"left","baseline":"middle"},"encoding":{"x":{"datum":117,"type":"quantitative","axis":{"orient":"top","values":[120,110,100,90,80],"labels":false,"grid":false,"domain":false,"title":null}},"y":{"datum":0,"type":"quantitative","axis":{"orient":"right","values":[-2,0,2,4,6],"labels":false,"grid":false,"domain":false,"title":null}},"text":{"field":"t"}}},
{"data":{"values":[{"t":"2"}]},"mark":{"type":"text","align":"left","baseline":"middle","fontSize":9,"dx":10,"dy":6},"encoding":{"x":{"datum":117,"type":"quantitative","axis":null},"y":{"datum":0,"type":"quantitative","axis":null},"text":{"field":"t"}}},
{"data":{"values":[{"t":"= 6.0e+06 J/kg"}]},"mark":{"type":"text","align":"left","baseline":"middle","dx":21},"encoding":{"x":{"datum":117,"type":"quantitative","axis":null},"y":{"datum":0,"type":"quantitative","axis":null},"text":{"field":"t"}}}
],"resolve":{"axis":{"x":"independent","y":"independent"}}},

{"width":339,"height":105,"layer":[
{"data":{"name":"curves"},"transform":[{"filter":"datum.c=='c5'"}],"mark":{"type":"line","color":"#0072BD","strokeWidth":3,"interpolate":"monotone"},"encoding":{"x":{"field":"h","type":"quantitative","scale":{"domain":[85,120],"reverse":true,"nice":false,"zero":false},"axis":{"values":[120,115,110,105,100,95,90,85],"title":"Height, km","labelExpr":"''+datum.value"}},"y":{"field":"m","type":"quantitative","scale":{"domain":[-3,6],"reverse":true,"nice":false,"zero":false},"axis":{"values":[-2,0,2,4,6],"title":null,"labelExpr":"''+datum.value"}}}},
{"data":{"name":"dots"},"mark":{"type":"circle","color":"#0072BD","size":8,"opacity":1},"encoding":{"x":{"field":"h","type":"quantitative","axis":null},"y":{"field":"m","type":"quantitative","axis":null}}},
{"data":{"values":[{"t":"Q"}]},"mark":{"type":"text","align":"left","baseline":"middle"},"encoding":{"x":{"datum":116.9,"type":"quantitative","axis":{"orient":"top","values":[120,115,110,105,100,95,90,85],"labels":false,"grid":false,"domain":false,"title":null}},"y":{"datum":4.86,"type":"quantitative","axis":{"orient":"right","values":[-2,0,2,4,6],"labels":false,"grid":false,"domain":false,"title":null}},"text":{"field":"t"}}},
{"data":{"values":[{"t":"2"}]},"mark":{"type":"text","align":"left","baseline":"middle","fontSize":9,"dx":10,"dy":6},"encoding":{"x":{"datum":116.9,"type":"quantitative","axis":null},"y":{"datum":4.86,"type":"quantitative","axis":null},"text":{"field":"t"}}},
{"data":{"values":[{"t":"= 6.0e+06 J/kg"}]},"mark":{"type":"text","align":"left","baseline":"middle","dx":21},"encoding":{"x":{"datum":116.9,"type":"quantitative","axis":null},"y":{"datum":4.86,"type":"quantitative","axis":null},"text":{"field":"t"}}}
],"resolve":{"axis":{"x":"independent","y":"independent"}}}
],
"config": {
"font": "Liberation Sans",
"view": {"stroke": "#262626", "strokeWidth": 1},
"axis": {"labelFont": "Liberation Sans", "labelFontSize": 13, "labelColor": "#262626", "labelFlush": false, "labelOverlap": false, "domainColor": "#262626", "tickColor": "#262626", "tickSize": -4, "gridColor": "#e0e0e0", "gridWidth": 1, "titleFont": "Liberation Sans", "titleFontSize": 24, "titleFontWeight": "normal", "titleColor": "#262626"},
"axisX": {"labelPadding": 12, "titlePadding": 10},
"axisY": {"labelPadding": 10, "titlePadding": 12},
"title": {"font": "Liberation Sans", "fontSize": 24, "fontWeight": "bold", "color": "#000000", "lineHeight": 27, "offset": 7, "anchor": "middle"},
"text": {"font": "Liberation Sans", "fontSize": 13, "color": "#1a1a1a"}
}
}
